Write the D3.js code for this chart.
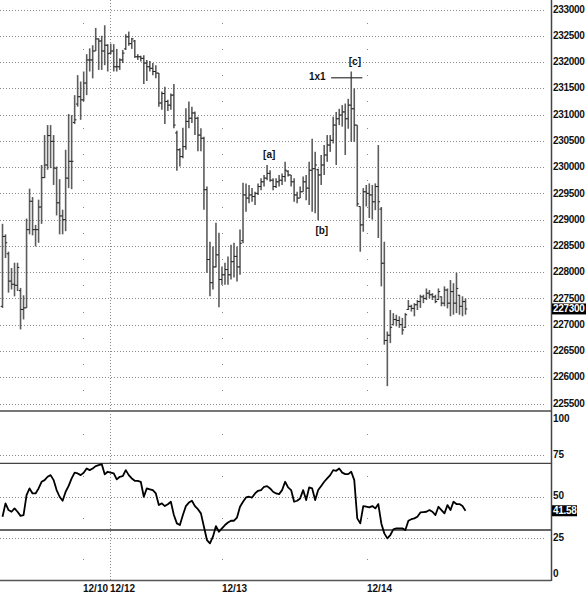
<!DOCTYPE html>
<html><head><meta charset="utf-8">
<script src="https://cdn.jsdelivr.net/npm/d3@7/dist/d3.min.js"></script>
<style>
html,body{margin:0;padding:0;background:#fff;}
svg{display:block;}
text{font-family:"Liberation Sans",Arial,sans-serif;font-weight:bold;font-size:10px;fill:#111;}
</style></head><body>
<svg id="c" width="586" height="600"></svg>
<script>
const highs=[228920,228720,228390,228080,228180,228180,227700,227560,229020,229590,229430,228900,229380,230040,230610,230800,230800,230610,230010,229770,229190,230330,231010,230990,231370,231750,231630,231820,232150,232260,232320,232650,232450,232500,232700,232340,232350,232340,232250,232070,232230,232530,232580,232460,232420,232150,232120,232130,232040,232020,231980,231940,231790,231440,231530,231280,231400,231580,230690,230360,230750,231120,231250,231150,231060,230960,230740,230580,229630,228580,228490,228940,228750,228110,228180,228300,228520,228560,228490,228810,229700,229690,229660,229600,229530,229690,229790,229850,230040,229940,229790,229790,229850,229880,230100,229940,229850,229790,229530,229630,229820,229850,230100,230540,230290,229970,230230,230420,230610,230610,230960,231050,231110,231180,231210,231300,231820,231500,230800,229250,229600,229660,229690,229660,229690,230420,229240,228580,226870,227280,227220,227190,227160,227130,227220,227470,227380,227410,227470,227570,227570,227690,227660,227600,227570,227690,227540,227730,227690,227850,227790,227990,227570,227540,227500];
const lows=[227320,228270,227610,227670,227540,227640,226910,227100,227320,228720,228700,228490,228560,228920,229790,229950,229980,229660,229080,228720,228720,228780,229600,229580,230820,231150,230900,231250,231370,231820,231690,232210,231850,231850,231940,231820,232150,231820,231820,231850,231980,232230,232310,232250,232080,232040,232010,231580,231640,231820,231750,231690,231150,231090,230820,231070,231090,230740,229930,230010,230170,230330,230740,230840,230610,230300,230300,229190,227990,227540,227670,228090,227330,227760,227760,227760,227860,227900,227820,227950,228550,229150,229310,229340,229280,229470,229560,229630,229750,229720,229560,229600,229630,229660,229720,229820,229630,229340,229310,229410,229530,229370,229280,229150,229120,228990,229660,229850,230100,230290,230450,230040,230800,230770,230230,230730,230480,230480,229250,228390,228770,229250,229030,229000,229180,228650,227730,226620,225830,226650,227000,226970,226940,226810,226940,227280,227250,227160,227280,227320,227410,227470,227500,227470,227410,227470,227350,227350,227310,227160,227190,227220,227190,227160,227190];
const opens=[227350,228680,228350,227830,227770,227750,227650,227290,227320,228810,229350,228810,228810,229240,229800,230040,230600,230490,229980,229320,229070,229000,229790,230110,230850,231200,231340,231280,231600,232040,232040,232210,232440,232400,232210,232320,232170,232210,231910,231910,232040,232250,232480,232350,232400,232100,232100,232070,231980,231910,231880,231820,231790,231220,231400,231250,231180,231370,230650,230330,230200,230390,230870,230930,231030,230930,230610,230550,229570,228240,227800,228100,228330,227860,227950,228050,227950,228200,228300,228100,228600,229470,229410,229470,229440,229500,229630,229720,229790,229880,229750,229630,229720,229750,229820,229920,229850,229720,229470,229410,229530,229720,229600,229940,229970,229950,229850,230040,230230,230420,230510,230800,230920,230990,231050,230920,231180,231110,230800,229250,228900,229530,229500,229470,229340,229630,229200,228170,226700,226800,227000,227100,227080,227000,226950,227290,227350,227310,227380,227440,227530,227500,227600,227570,227530,227480,227530,227410,227660,227410,227630,227410,227560,227350,227440];
const closes=[228680,228560,227830,227770,227750,228090,227290,227320,228810,229350,228810,228810,229240,229800,230040,230600,230490,229980,229320,229070,229000,229790,230110,230110,230900,231340,231280,231600,232040,232040,232210,232440,232400,232210,232320,232160,232210,231910,231910,232040,232170,232480,232350,232440,232100,232100,232070,231980,231910,231880,231820,231790,231220,231400,231250,231180,231370,230800,230330,230200,230390,230870,230930,231030,230930,230610,230550,229570,228240,227800,228100,228330,227860,227950,228050,227950,228200,228300,228100,228550,229470,229410,229470,229440,229500,229630,229720,229790,229880,229750,229630,229720,229750,229820,229940,229850,229720,229470,229410,229530,229720,229600,229940,229970,230040,229850,230040,230230,230420,230510,230800,230920,230990,231050,230920,231180,231110,230800,229300,228900,229530,229500,229470,229340,229630,229340,228170,226700,226800,226950,227100,227080,227000,226900,227190,227350,227310,227380,227440,227530,227500,227600,227570,227530,227440,227630,227410,227660,227410,227630,227410,227690,227350,227440,227300];
const rsi=[38,46,42,41,43,41,38.5,39,51,55,52,52,55,59,60,62,63,60,54,50,47.6,53,56.5,61,64.5,64,63,64.4,67,66,67,68.4,69,69.6,63.5,65,64.5,64,60.4,62,62.4,66,63,61,59.6,59.5,59,50,55,54.5,54,52,45,46,44.4,45.5,47,39,34,33,39,44.4,46.5,47.6,44.4,42.5,40,32,24,22,26,32.4,29,31,33,34.5,35.6,35.6,37.5,44,47,49.6,50,49.5,52,53.6,54,56,56.4,55,53,52,51.6,54,59,55.6,54,47,47.6,49,54,48,55.6,55,48,54,56.5,59,61,63,66,65.6,67,64.5,63.6,63.6,65,60,37,34,44.4,44,43.6,44.4,43,45.6,34,28,25,27,30.4,31,31,31,30,35.6,36.5,37,38,40.6,40.8,41,42,41,39,44,42,40,45,42,47,45.6,45.6,44.4,41.58];
const priceTicks=[225500,226000,226500,227000,227500,228000,228500,229000,229500,230000,230500,231000,231500,232000,232500,233000];
const rsiTicks=[0,25,50,75,100];
const rsiLevels=[30,70];
const dateTicks=[{label:"12/10",i:26.75},{label:"12/12",i:35.9},{label:"12/13",i:72.9},{label:"12/14",i:121.1}];
const notes=[{text:"[a]",i:88.7,p:230215},{text:"[b]",i:106.2,p:228770},{text:"[c]",i:117.2,p:232000},{text:"1x1",i:104.7,p:231717}];
const crossLine={i1:109.3,i2:119.7,p:231700};
const lastPrice=227300, lastRsi=41.58;

const svg=d3.select("#c");
const N=closes.length;
const X_END=551, GRID_END=545;
const x=d3.scaleLinear().domain([0,N-1]).range([2.5,465.5]);
const yP=d3.scaleLinear().domain([225500,233000]).range([403.5,9.5]);
const yR=d3.scaleLinear().domain([0,100]).range([580,413.5]);

// price grid
svg.append("g").selectAll("line").data(priceTicks).join("line")
  .attr("x1",0).attr("x2",GRID_END).attr("y1",d=>Math.round(yP(d))+0.5).attr("y2",d=>Math.round(yP(d))+0.5)
  .attr("stroke","#8a8a8a").attr("stroke-width",1).attr("stroke-dasharray","1,2");
// rsi grid
svg.append("g").selectAll("line").data(rsiTicks.filter(d=>d>0&&d<100)).join("line")
  .attr("x1",0).attr("x2",GRID_END).attr("y1",d=>Math.round(yR(d))+0.5).attr("y2",d=>Math.round(yR(d))+0.5)
  .attr("stroke","#8a8a8a").attr("stroke-width",1).attr("stroke-dasharray","1,2");
svg.append("g").selectAll("line").data(rsiLevels).join("line")
  .attr("x1",0).attr("x2",X_END).attr("y1",d=>yR(d)).attr("y2",d=>yR(d))
  .attr("stroke",d=>d===30?"#666":"#444").attr("stroke-width",d=>d===30?2:1.2);

// vertical date grid
dateTicks.forEach(t=>{
  const xx=Math.round(x(t.i))+0.5;
  if(t.label==="12/12"){
    svg.append("line").attr("x1",xx).attr("x2",xx).attr("y1",0).attr("y2",580)
      .attr("stroke","#8a8a8a").attr("stroke-dasharray","1,2");
  } else {
    const half=[];
    for(let k=0;k<priceTicks.length;k++){ half.push(priceTicks[k]+250); }
    svg.append("g").selectAll("rect").data(half.filter(p=>p<233250)).join("rect")
      .attr("x",xx-0.5).attr("y",p=>Math.round(yP(p))).attr("width",1).attr("height",1).attr("fill","#888");
    svg.append("g").selectAll("rect").data([12.5,37.5,62.5,87.5]).join("rect")
      .attr("x",xx-0.5).attr("y",v=>Math.round(yR(v))).attr("width",1).attr("height",1).attr("fill","#888");
  }
});

// panel separator, axes
svg.append("line").attr("x1",0).attr("x2",X_END).attr("y1",411).attr("y2",411).attr("stroke","#777").attr("stroke-width",2);
svg.append("line").attr("x1",0).attr("x2",X_END).attr("y1",580.5).attr("y2",580.5).attr("stroke","#555").attr("stroke-width",1.5);
svg.append("line").attr("x1",X_END+0.5).attr("x2",X_END+0.5).attr("y1",0).attr("y2",581).attr("stroke","#444").attr("stroke-width",1.5);

// OHLC bars
const bars=svg.append("g");
for(let i=0;i<N;i++){
  const xx=x(i);
  bars.append("line").attr("x1",xx).attr("x2",xx).attr("y1",yP(highs[i])).attr("y2",yP(lows[i]))
    .attr("stroke","#5c5c5c").attr("stroke-width",1.6);
  bars.append("line").attr("x1",xx-1.8).attr("x2",xx).attr("y1",yP(opens[i])).attr("y2",yP(opens[i]))
    .attr("stroke","#222").attr("stroke-width",1);
  bars.append("line").attr("x1",xx).attr("x2",xx+1.8).attr("y1",yP(closes[i])).attr("y2",yP(closes[i]))
    .attr("stroke","#222").attr("stroke-width",1);
}

// RSI line
svg.append("path").datum(rsi)
  .attr("d",d3.line().x((d,i)=>x(i)).y(d=>yR(d)))
  .attr("fill","none").attr("stroke","#000").attr("stroke-width",1.8).attr("stroke-linejoin","round");

// annotations
svg.append("line").attr("x1",x(crossLine.i1)).attr("x2",x(crossLine.i2))
  .attr("y1",yP(crossLine.p)).attr("y2",yP(crossLine.p)).attr("stroke","#333").attr("stroke-width",1.2);
svg.append("g").selectAll("text").data(notes).join("text")
  .attr("x",d=>x(d.i)).attr("y",d=>yP(d.p)).attr("text-anchor","middle").attr("dominant-baseline","middle")
  .text(d=>d.text);

// price labels
svg.append("g").selectAll("text").data(priceTicks).join("text")
  .attr("x",553).attr("y",d=>yP(d)+0.5).attr("dominant-baseline","middle").attr("letter-spacing","-0.3")
  .text(d=>d);
// rsi labels
svg.append("g").selectAll("text").data(rsiTicks).join("text")
  .attr("x",553).attr("y",d=>Math.min(574,Math.max(419,yR(d)))).attr("dominant-baseline","middle")
  .text(d=>d);
// last value boxes
const yl=yP(lastPrice);
svg.append("rect").attr("x",552).attr("y",yl-5.5).attr("width",34).attr("height",11).attr("fill","#000");
svg.append("text").attr("x",553).attr("y",yl+0.5).attr("dominant-baseline","middle").attr("letter-spacing","-0.3")
  .style("fill","#fff").text(lastPrice);
const yr=yR(lastRsi);
svg.append("rect").attr("x",552).attr("y",yr-5.5).attr("width",25).attr("height",11).attr("fill","#000");
svg.append("text").attr("x",553).attr("y",yr+0.5).attr("dominant-baseline","middle").attr("letter-spacing","-0.3")
  .style("fill","#fff").text(lastRsi.toFixed(2));

// date labels
svg.append("g").selectAll("text").data(dateTicks).join("text")
  .attr("x",d=>Math.round(x(d.i))).attr("y",589).attr("dominant-baseline","middle")
  .text(d=>d.label);
</script></body></html>
